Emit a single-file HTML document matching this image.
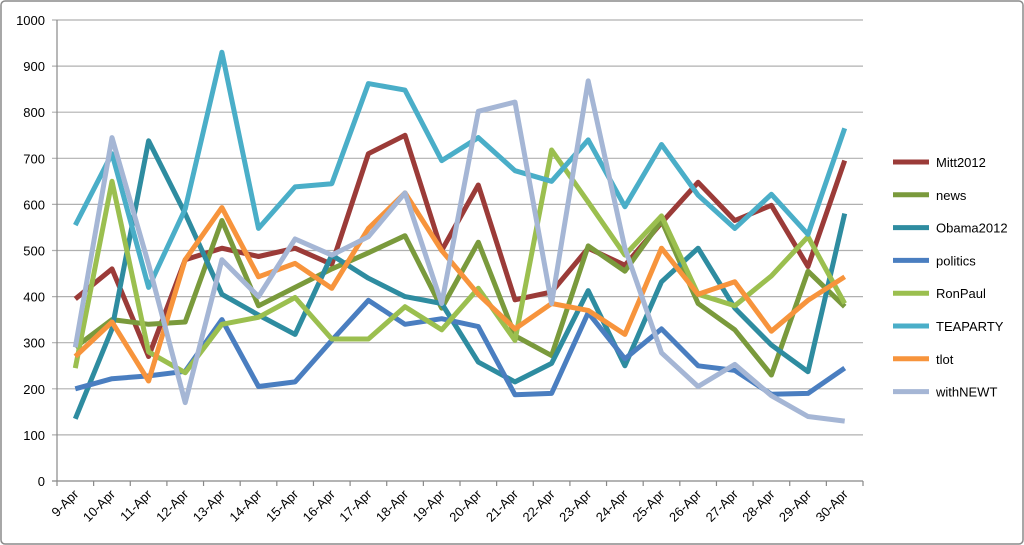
<!DOCTYPE html>
<html><head><meta charset="utf-8"><style>
body{margin:0;background:#fff;}
svg{display:block;font-family:"Liberation Sans",sans-serif;}
</style></head><body>
<svg id="chart" width="1024" height="545" viewBox="0 0 1024 545">
<rect x="1" y="1" width="1022" height="543" rx="4" fill="#fff" stroke="#8a8a8a" stroke-width="1.5"/>
<g id="grid"></g><g id="axes"></g><g id="series"></g><g id="legend"></g>
</svg>
<script>
const categories=["9-Apr","10-Apr","11-Apr","12-Apr","13-Apr","14-Apr","15-Apr","16-Apr","17-Apr","18-Apr","19-Apr","20-Apr","21-Apr","22-Apr","23-Apr","24-Apr","25-Apr","26-Apr","27-Apr","28-Apr","29-Apr","30-Apr"];
const yTicks=[0,100,200,300,400,500,600,700,800,900,1000];
const seriesNames=["Mitt2012","news","Obama2012","politics","RonPaul","TEAPARTY","tlot","withNEWT"];
const mitt2012=[395,460,270,480,505,487,505,470,710,750,500,642,393,410,505,468,560,648,565,598,465,695];
const news=[290,350,340,345,565,380,420,460,495,532,375,518,315,272,510,455,565,385,328,230,455,378];
const obama2012=[135,330,738,580,405,360,318,490,440,400,385,258,215,255,413,250,432,505,375,295,237,580];
const politics=[200,222,228,238,350,205,215,305,392,340,352,335,187,190,365,265,330,250,240,188,190,245];
const ronPaul=[245,650,280,235,340,355,398,308,308,378,328,418,305,718,605,490,575,405,380,445,530,385];
const teaparty=[555,710,420,590,930,548,638,645,862,848,695,745,673,650,740,595,730,620,548,622,535,765];
const tlot=[270,345,217,480,593,443,472,418,548,625,500,405,330,385,370,318,505,405,432,325,392,443];
const withNEWT=[290,745,470,170,480,400,525,490,530,625,385,802,822,385,868,505,278,205,253,185,140,130];
const seriesData=[mitt2012,news,obama2012,politics,ronPaul,teaparty,tlot,withNEWT];
const colors=["#9b3b38","#7a9a3c","#2e8ca0","#4a7ec0","#9bbf4f","#4aaec8","#f7943c","#a5b6d5"];
const NS="http://www.w3.org/2000/svg";
const X0=57,X1=863,Y0=481,Y1=20,YMAX=1000;
const band=(X1-X0)/categories.length;
function xs(i){return X0+band*(i+0.5);}
function ys(v){return Y0-(v/YMAX)*(Y0-Y1);}
function mk(t,a,p){const e=document.createElementNS(NS,t);for(const k in a)e.setAttribute(k,a[k]);p.appendChild(e);return e;}
const grid=document.getElementById('grid'),axes=document.getElementById('axes'),ser=document.getElementById('series'),leg=document.getElementById('legend');
yTicks.forEach(v=>{
  const l=mk('line',{x1:X0-5,x2:X1,y1:ys(v),y2:ys(v),stroke:v===0?'#888':'#b0b0b0','stroke-width':1.2},grid);
  
  
  const t=mk('text',{x:X0-12,y:ys(v)+5,'text-anchor':'end','font-size':13,fill:'#000'},axes);
  t.textContent=v;
  
  
});
const ya=mk('line',{x1:X0,x2:X0,y1:Y1,y2:Y0,stroke:'#888','stroke-width':1.2},axes);


for(let i=0;i<=categories.length;i++){
  const tk=mk('line',{x1:X0+band*i,x2:X0+band*i,y1:Y0,y2:Y0+5,stroke:'#888','stroke-width':1.2},axes);
  
  
}
categories.forEach((c,i)=>{
  const x=xs(i)+4,y=Y0+14;
  const t=mk('text',{x:x,y:y,'text-anchor':'end','font-size':13,fill:'#000',transform:`rotate(-45 ${x} ${y})`},axes);
  t.textContent=c;
  
  
});
seriesData.forEach((d,s)=>{
  const pts=d.map((v,i)=>xs(i).toFixed(1)+','+ys(v).toFixed(1)).join(' ');
  const p=mk('polyline',{points:pts,fill:'none',stroke:colors[s],'stroke-width':5,'stroke-linejoin':'round'},ser);
  
  
});
seriesNames.forEach((n,s)=>{
  const y=162+s*32.8;
  const g=mk('g',{},leg);
  
  
  mk('line',{x1:893,x2:929,y1:y,y2:y,stroke:colors[s],'stroke-width':5},g);
  const t=mk('text',{x:936,y:y+5,'font-size':13,fill:'#000'},g);
  t.textContent=n;
});
</script>
</body></html>
